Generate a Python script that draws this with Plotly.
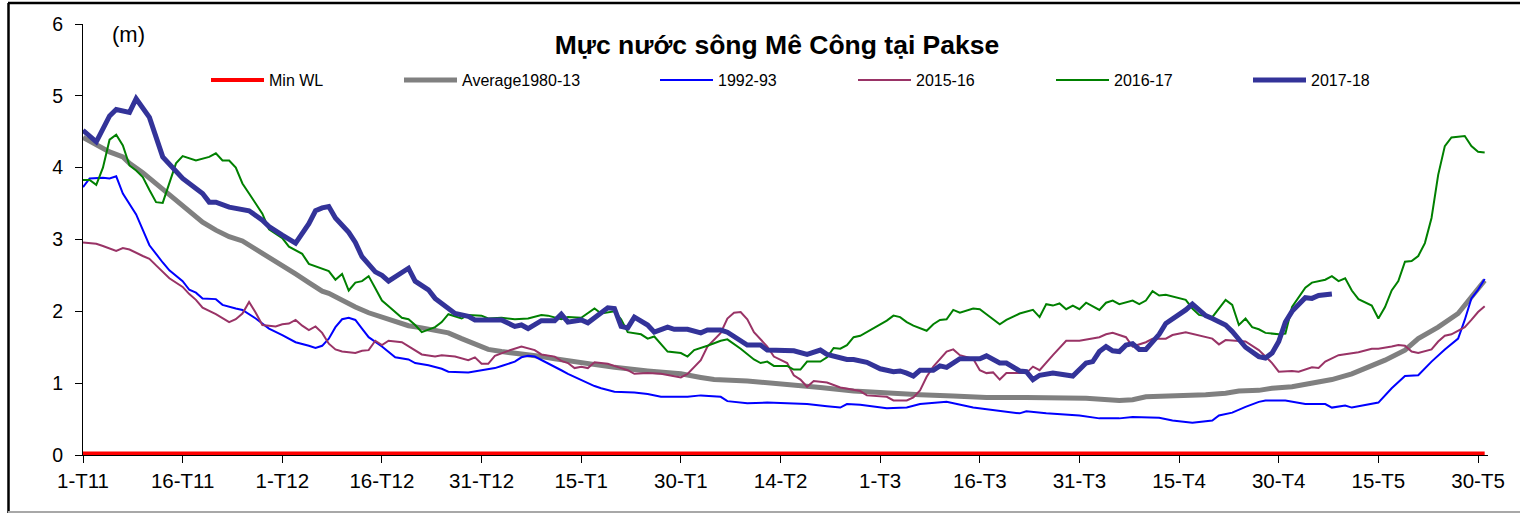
import plotly.graph_objects as go

# ---------------- data (day index: 0 = 1-T11 ... 211 = 31-T5) ----------------
tick_days = [0, 15, 30, 45, 60, 75, 90, 105, 120, 135, 150, 165, 180, 195, 210]
tick_labels = ["1-T11", "16-T11", "1-T12", "16-T12", "31-T12", "15-T1", "30-T1",
               "14-T2", "1-T3", "16-T3", "31-T3", "15-T4", "30-T4", "15-T5", "30-T5"]

minwl_days = [0, 211]
minwl_vals = [0.02, 0.02]

avg_days = [0, 2, 4, 6, 7, 9, 11, 12, 14, 16, 18, 20, 22, 24, 26, 27, 30, 32, 34, 36, 37, 39,
            41, 43, 45, 47, 49, 51, 53, 55, 57, 59, 61, 63, 65, 67, 69, 71, 75, 80, 85, 90, 93,
            95, 100, 106, 111, 116, 121, 126, 131, 136, 142, 146, 151, 156, 158, 160, 164, 169,
            172, 174, 177, 179, 182, 185, 188, 191, 193, 196, 199, 201, 204, 207, 209, 211]
avg_vals = [4.42, 4.31, 4.22, 4.15, 4.06, 3.93, 3.78, 3.69, 3.55, 3.41, 3.24, 3.13, 3.04, 2.98,
            2.87, 2.81, 2.65, 2.52, 2.40, 2.28, 2.25, 2.15, 2.06, 1.98, 1.92, 1.85, 1.80, 1.77,
            1.74, 1.70, 1.62, 1.55, 1.47, 1.44, 1.42, 1.39, 1.37, 1.34, 1.28, 1.22, 1.17, 1.13,
            1.08, 1.05, 1.03, 0.99, 0.94, 0.89, 0.86, 0.84, 0.82, 0.80, 0.80, 0.80, 0.79, 0.76,
            0.77, 0.81, 0.82, 0.84, 0.86, 0.89, 0.90, 0.93, 0.95, 1.00, 1.05, 1.13, 1.21, 1.32,
            1.46, 1.62, 1.78, 1.97, 2.20, 2.43]

y9293_days = [0, 1, 3, 4, 5, 6, 8, 10, 12, 13, 15, 16, 17, 18, 20, 21, 23, 24, 26, 28, 30, 32,
              34, 35, 36, 37, 38, 39, 40, 41, 42, 43, 45, 46, 47, 49, 50, 52, 54, 55, 58, 60,
              62, 63, 65, 66, 67, 68, 70, 72, 73, 75, 77, 78, 80, 83, 85, 87, 91, 93, 96, 97,
              100, 103, 107, 109, 112, 114, 115, 117, 121, 124, 126, 130, 134, 138, 141, 142,
              145, 150, 153, 156, 158, 162, 164, 167, 170, 171, 173, 175, 177, 178, 181, 184,
              187, 188, 190, 191, 195, 197, 199, 201, 203, 205, 207, 208, 209, 210, 211]
y9293_vals = [3.73, 3.85, 3.86, 3.85, 3.88, 3.64, 3.35, 2.92, 2.68, 2.57, 2.42, 2.30, 2.26,
              2.18, 2.17, 2.09, 2.04, 2.02, 1.90, 1.76, 1.67, 1.57, 1.52, 1.49, 1.52, 1.62,
              1.78, 1.89, 1.91, 1.88, 1.76, 1.64, 1.51, 1.43, 1.36, 1.33, 1.28, 1.25, 1.20,
              1.16, 1.15, 1.18, 1.21, 1.24, 1.30, 1.36, 1.38, 1.37, 1.28, 1.18, 1.13, 1.04,
              0.96, 0.93, 0.88, 0.87, 0.85, 0.81, 0.81, 0.83, 0.81, 0.75, 0.72, 0.73, 0.72,
              0.71, 0.68, 0.66, 0.71, 0.70, 0.65, 0.66, 0.71, 0.74, 0.66, 0.61, 0.58, 0.61,
              0.58, 0.55, 0.51, 0.51, 0.53, 0.52, 0.48, 0.45, 0.48, 0.55, 0.59, 0.67, 0.74,
              0.76, 0.76, 0.71, 0.71, 0.66, 0.69, 0.66, 0.73, 0.93, 1.10, 1.11, 1.30, 1.47,
              1.62, 1.88, 2.18, 2.30, 2.45]

y1516_days = [0, 2, 3, 4, 5, 6, 7, 9, 10, 11, 12, 13, 15, 16, 17, 18, 20, 21, 22, 23, 24, 25,
              26, 27, 29, 30, 31, 32, 33, 34, 35, 36, 37, 38, 39, 41, 42, 43, 44, 45, 46, 48,
              49, 50, 51, 53, 54, 56, 57, 58, 59, 60, 61, 62, 64, 65, 66, 68, 69, 71, 72, 73,
              74, 75, 76, 77, 79, 81, 82, 83, 85, 87, 89, 90, 91, 93, 94, 96, 97, 98, 99, 100,
              101, 103, 104, 106, 107, 108, 109, 110, 112, 114, 117, 118, 121, 122, 124, 125,
              126, 127, 128, 129, 130, 131, 132, 134, 135, 136, 137, 138, 139, 141, 142, 143,
              144, 146, 148, 150, 153, 154, 155, 157, 158, 160, 161, 163, 164, 166, 168, 170,
              171, 172, 175, 177, 178, 179, 180, 182, 183, 185, 186, 187, 189, 191, 192, 194,
              195, 197, 198, 199, 200, 201, 203, 204, 205, 206, 208, 209, 210, 211]
y1516_vals = [2.96, 2.94, 2.91, 2.87, 2.84, 2.88, 2.86, 2.77, 2.73, 2.64, 2.55, 2.46, 2.34,
              2.24, 2.16, 2.05, 1.96, 1.90, 1.85, 1.89, 1.97, 2.13, 1.98, 1.81, 1.79, 1.82,
              1.83, 1.88, 1.80, 1.74, 1.79, 1.70, 1.55, 1.47, 1.44, 1.42, 1.45, 1.46, 1.59,
              1.53, 1.59, 1.57, 1.51, 1.45, 1.40, 1.37, 1.39, 1.37, 1.34, 1.32, 1.36, 1.27,
              1.27, 1.38, 1.45, 1.48, 1.51, 1.46, 1.40, 1.37, 1.31, 1.28, 1.21, 1.23, 1.21,
              1.29, 1.27, 1.21, 1.18, 1.13, 1.14, 1.13, 1.09, 1.08, 1.13, 1.32, 1.51, 1.70,
              1.90, 1.98, 1.99, 1.89, 1.71, 1.51, 1.37, 1.28, 1.11, 1.05, 0.95, 1.03, 1.01,
              0.94, 0.89, 0.83, 0.81, 0.76, 0.76, 0.80, 0.90, 1.09, 1.23, 1.34, 1.44, 1.47,
              1.39, 1.34, 1.18, 1.14, 1.15, 1.05, 1.14, 1.14, 1.14, 1.23, 1.18, 1.39, 1.59,
              1.59, 1.64, 1.68, 1.70, 1.64, 1.51, 1.57, 1.62, 1.62, 1.67, 1.71, 1.67, 1.62,
              1.54, 1.60, 1.58, 1.46, 1.37, 1.28, 1.16, 1.17, 1.16, 1.22, 1.21, 1.30, 1.39,
              1.42, 1.43, 1.48, 1.48, 1.51, 1.53, 1.52, 1.44, 1.42, 1.47, 1.58, 1.66, 1.68,
              1.78, 1.88, 1.99, 2.07]

y1617_days = [0, 1, 2, 3, 4, 5, 6, 7, 8, 9, 10, 11, 12, 13, 14, 15, 17, 19, 20, 21, 22, 23, 24,
              25, 27, 28, 30, 31, 33, 34, 36, 37, 38, 39, 40, 41, 42, 43, 44, 45, 46, 48, 49,
              50, 51, 53, 54, 55, 57, 58, 60, 61, 63, 65, 67, 69, 70, 72, 73, 75, 77, 78, 80,
              81, 82, 84, 85, 86, 88, 90, 91, 92, 94, 96, 97, 99, 101, 102, 103, 104, 106, 107,
              108, 109, 111, 112, 113, 114, 115, 116, 117, 119, 121, 122, 123, 124, 125, 127,
              128, 129, 130, 131, 132, 134, 135, 136, 138, 139, 141, 143, 144, 145, 146, 147,
              148, 149, 150, 151, 153, 154, 155, 156, 158, 159, 160, 161, 162, 163, 165, 166,
              167, 168, 170, 171, 172, 173, 174, 175, 176, 177, 178, 180, 181, 182, 184, 185,
              187, 188, 189, 190, 191, 192, 194, 195, 196, 197, 198, 199, 200, 201, 202, 203,
              204, 205, 206, 208, 209, 210, 211]
y1617_vals = [3.83, 3.83, 3.76, 4.00, 4.39, 4.46, 4.31, 4.03, 3.96, 3.87, 3.69, 3.52, 3.51,
              3.80, 4.06, 4.16, 4.10, 4.15, 4.20, 4.10, 4.10, 4.00, 3.78, 3.64, 3.36, 3.14,
              3.02, 2.90, 2.80, 2.66, 2.60, 2.56, 2.44, 2.52, 2.29, 2.40, 2.42, 2.49, 2.32,
              2.15, 2.07, 1.91, 1.89, 1.81, 1.71, 1.78, 1.85, 1.96, 1.90, 1.95, 1.94, 1.90,
              1.91, 1.89, 1.90, 1.95, 1.94, 1.89, 1.92, 1.91, 2.04, 1.97, 2.00, 1.89, 1.71,
              1.68, 1.62, 1.65, 1.44, 1.42, 1.37, 1.46, 1.52, 1.59, 1.61, 1.48, 1.33, 1.28,
              1.30, 1.24, 1.24, 1.19, 1.19, 1.30, 1.30, 1.36, 1.49, 1.48, 1.53, 1.64, 1.66,
              1.76, 1.87, 1.94, 1.92, 1.85, 1.80, 1.73, 1.82, 1.88, 1.89, 2.02, 1.98, 2.04,
              2.03, 1.96, 1.82, 1.88, 1.97, 2.02, 1.92, 2.10, 2.08, 2.11, 2.03, 2.08, 2.03,
              2.12, 2.02, 2.12, 2.15, 2.10, 2.15, 2.10, 2.15, 2.28, 2.22, 2.23, 2.18, 2.16,
              2.04, 1.95, 1.92, 2.04, 2.16, 2.09, 1.81, 1.90, 1.78, 1.75, 1.70, 1.68, 1.69,
              2.06, 2.33, 2.40, 2.44, 2.49, 2.42, 2.46, 2.29, 2.17, 2.08, 1.90, 2.06, 2.29,
              2.42, 2.69, 2.70, 2.77, 2.95, 3.30, 3.90, 4.30, 4.42, 4.44, 4.30, 4.22, 4.21]

y1718_days = [0, 2, 4, 5, 7, 8, 10, 11, 12, 15, 16, 18, 19, 20, 22, 24, 25, 27, 28, 30, 31, 32,
              34, 35, 36, 37, 38, 40, 41, 42, 44, 45, 46, 47, 48, 49, 50, 52, 53, 55, 56, 58,
              59, 61, 63, 65, 66, 67, 69, 71, 72, 73, 75, 76, 78, 79, 80, 81, 82, 83, 85, 86,
              88, 89, 91, 93, 94, 96, 97, 98, 100, 102, 103, 107, 109, 111, 112, 115, 116, 118,
              120, 122, 123, 124, 125, 126, 128, 129, 130, 132, 135, 136, 138, 139, 141, 142,
              143, 144, 146, 149, 150, 151, 152, 153, 154, 155, 156, 157, 158, 159, 160, 162,
              163, 164, 166, 167, 169, 170, 172, 173, 175, 177, 178, 179, 180, 181, 182, 184,
              185, 186, 188]
y1718_vals = [4.52, 4.36, 4.72, 4.81, 4.77, 4.96, 4.70, 4.40, 4.15, 3.85, 3.78, 3.64, 3.52,
              3.52, 3.45, 3.41, 3.40, 3.27, 3.18, 3.06, 3.01, 2.95, 3.22, 3.40, 3.44, 3.46,
              3.30, 3.10, 2.96, 2.76, 2.55, 2.50, 2.42, 2.48, 2.56, 2.60, 2.42, 2.30, 2.18,
              2.05, 1.97, 1.93, 1.88, 1.88, 1.88, 1.79, 1.81, 1.76, 1.87, 1.87, 1.96, 1.85,
              1.88, 1.84, 1.98, 2.05, 2.04, 1.79, 1.77, 1.92, 1.81, 1.71, 1.78, 1.75, 1.75,
              1.70, 1.74, 1.74, 1.71, 1.65, 1.53, 1.53, 1.46, 1.45, 1.40, 1.46, 1.40, 1.33,
              1.33, 1.29, 1.20, 1.16, 1.17, 1.14, 1.10, 1.18, 1.18, 1.24, 1.22, 1.34, 1.34,
              1.38, 1.28, 1.28, 1.17, 1.16, 1.05, 1.11, 1.14, 1.10, 1.18, 1.28, 1.30, 1.44,
              1.51, 1.45, 1.44, 1.53, 1.55, 1.47, 1.47, 1.68, 1.83, 1.89, 2.02, 2.10, 1.94,
              1.90, 1.81, 1.72, 1.50, 1.37, 1.35, 1.42, 1.58, 1.85, 2.00, 2.19, 2.18, 2.22,
              2.24]

# ---------------- figure ----------------
FONT = "Liberation Sans, Arial, sans-serif"
L, R, T, B = 83, 32, 24, 58
W, H = 1520, 513
pw = W - L - R
ph = H - T - B


def px_x(p):
    return (p - L) / pw


def px_y(p):
    return (H - B - p) / ph


# name, x, y, colour, width, left pixel of its legend key
series = [
    ("Min WL", minwl_days, minwl_vals, "#FF0000", 4, 211),
    ("Average1980-13", avg_days, avg_vals, "#808080", 5, 404),
    ("1992-93", y9293_days, y9293_vals, "#0000FF", 2, 660),
    ("2015-16", y1516_days, y1516_vals, "#993366", 2, 858),
    ("2016-17", y1617_days, y1617_vals, "#008000", 2, 1056),
    ("2017-18", y1718_days, y1718_vals, "#333399", 5, 1253),
]

fig = go.Figure()
legends = {}
for i, (name, xs, ys, color, width, key_px) in enumerate(series):
    lg = "legend" if i == 0 else f"legend{i + 1}"
    fig.add_trace(go.Scatter(x=xs, y=ys, mode="lines", name=name, legend=lg,
                             line=dict(color=color, width=width)))
    legends[lg] = dict(orientation="h", x=px_x(key_px - 5), xanchor="left",
                       y=px_y(80), yanchor="middle", itemwidth=53,
                       font=dict(size=16, family=FONT, color="black"),
                       bgcolor="rgba(0,0,0,0)", borderwidth=0)

fig.update_layout(
    width=W, height=H, autosize=False,
    margin=dict(l=L, r=R, t=T, b=B, pad=0),
    paper_bgcolor="white", plot_bgcolor="white",
    font=dict(family=FONT, color="black"),
    title=dict(text="<b>Mực nước sông Mê Công tại Pakse</b>",
               font=dict(size=26.5, family=FONT, color="black"),
               x=px_x(777), xref="paper", xanchor="center",
               y=1 - 45 / H, yref="container", yanchor="middle"),
    showlegend=True,
    xaxis=dict(range=[0, 211.5], tickmode="array", tickvals=tick_days, ticktext=tick_labels,
               showgrid=False, zeroline=False, showline=True, linecolor="black", linewidth=1,
               ticks="outside", ticklen=7, tickcolor="black", tickwidth=1,
               tickfont=dict(size=20.5, family=FONT, color="black")),
    yaxis=dict(range=[0, 6], tickmode="array", tickvals=[0, 1, 2, 3, 4, 5, 6],
               showgrid=False, zeroline=False, showline=True, linecolor="black", linewidth=1,
               ticks="outside", ticklen=7, tickcolor="black", tickwidth=1,
               ticklabelstandoff=8,
               tickfont=dict(size=19.5, family=FONT, color="black")),
    annotations=[dict(text="(m)", x=px_x(128), y=px_y(35), xref="paper", yref="paper",
                      xanchor="center", yanchor="middle", showarrow=False,
                      font=dict(size=22, family=FONT, color="black"))],
    shapes=[
        dict(type="line", xref="paper", yref="paper", x0=px_x(8), x1=px_x(1522),
             y0=px_y(3), y1=px_y(3), line=dict(color="black", width=2.5)),
        dict(type="line", xref="paper", yref="paper", x0=px_x(8.5), x1=px_x(8.5),
             y0=px_y(3), y1=px_y(513), line=dict(color="black", width=2.5)),
        dict(type="line", xref="paper", yref="paper", x0=px_x(8), x1=px_x(1522),
             y0=px_y(512), y1=px_y(512), line=dict(color="#A8A8A8", width=2)),
    ],
)
fig.update_layout(**legends)

fig.write_html("out.html", config={"displayModeBar": False},
               post_script="document.body.style.margin='0';")
